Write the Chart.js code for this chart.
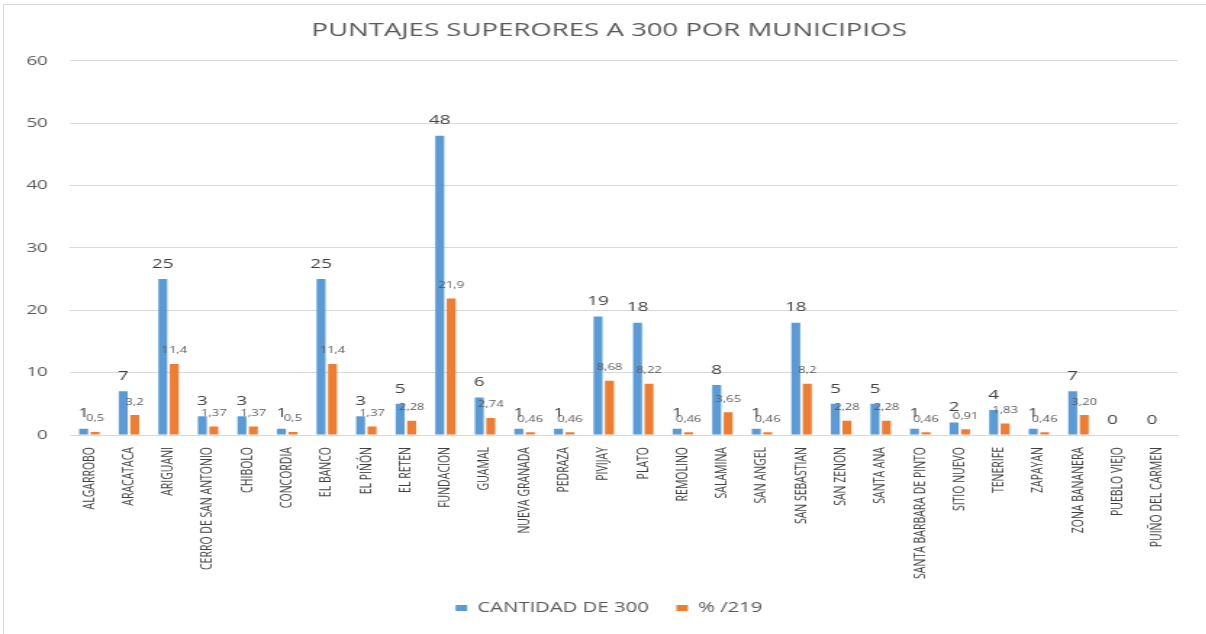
<!DOCTYPE html>
<html>
<head>
<meta charset="utf-8">
<script src="https://cdn.jsdelivr.net/npm/chart.js@4.4.1/dist/chart.umd.min.js"></script>
<style>
  html, body { margin: 0; padding: 0; background: #fff; overflow: hidden; }
  #wrap { position: relative; width: 1206px; height: 634px; }
  #frame { position: absolute; left: 3px; top: 4px; right: 0; bottom: 0; border-left: 1px solid #d9d9d9; border-top: 1px solid #d9d9d9; }
  /* the reference picture is stretched sideways, so the chart is drawn narrow and widened */
  canvas { position: absolute; left: 0; top: 0; transform: scaleX(1.45); transform-origin: 0 0; }
</style>
</head>
<body>
<div id="wrap">
  <div id="frame"></div>
  <canvas id="chart" width="832" height="634"></canvas>
</div>
<script>
const municipios = ["ALGARROBO", "ARACATACA", "ARIGUANI", "CERRO DE SAN ANTONIO", "CHIBOLO", "CONCORDIA",
  "EL BANCO", "EL PIÑÓN", "EL RETEN", "FUNDACION", "GUAMAL", "NUEVA GRANADA", "PEDRAZA", "PIVIJAY",
  "PLATO", "REMOLINO", "SALAMINA", "SAN ANGEL", "SAN SEBASTIAN", "SAN ZENON", "SANTA ANA",
  "SANTA BARBARA DE PINTO", "SITIO NUEVO", "TENERIFE", "ZAPAYAN", "ZONA BANANERA", "PUEBLO VIEJO",
  "PUIÑO DEL CARMEN"];
const cantidad = [1, 7, 25, 3, 3, 1, 25, 3, 5, 48, 6, 1, 1, 19, 18, 1, 8, 1, 18, 5, 5, 1, 2, 4, 1, 7, 0, 0];
const porcentaje = [0.5, 3.2, 11.4, 1.37, 1.37, 0.5, 11.4, 1.37, 2.28, 21.9, 2.74, 0.46, 0.46, 8.68, 8.22,
  0.46, 3.65, 0.46, 8.2, 2.28, 2.28, 0.46, 0.91, 1.83, 0.46, 3.2, null, null];
const porcentajeLabels = ["0,5", "3,2", "11,4", "1,37", "1,37", "0,5", "11,4", "1,37", "2,28", "21,9", "2,74",
  "0,46", "0,46", "8,68", "8,22", "0,46", "3,65", "0,46", "8,2", "2,28", "2,28", "0,46", "0,91", "1,83",
  "0,46", "3,20", null, null];
const yTicks = [0, 10, 20, 30, 40, 50, 60];

// draws the value labels over each bar
const valueLabels = {
  id: "valueLabels",
  afterDatasetsDraw(chart) {
    const ctx = chart.ctx;
    ctx.save();
    ctx.textAlign = "center";
    ctx.textBaseline = "middle";
    chart.data.datasets.forEach((ds, i) => {
      const meta = chart.getDatasetMeta(i);
      meta.data.forEach((bar, j) => {
        if (ds.data[j] === null) return;
        if (i === 0) {
          ctx.font = "13px 'Open Sans', sans-serif";
          ctx.fillStyle = "#404040";
          ctx.fillText(String(cantidad[j]), bar.x, bar.y - 15);
        } else {
          ctx.font = "9px 'Open Sans', sans-serif";
          ctx.fillStyle = "#595959";
          ctx.fillText(porcentajeLabels[j], bar.x, bar.y - 13);
        }
      });
    });
    ctx.restore();
  }
};

// title and legend sit a bit right of centre in the original
const shiftBoxes = {
  id: "shiftBoxes",
  afterLayout(chart) {
    [chart.titleBlock, chart.legend].forEach(box => {
      if (!box) return;
      box.left += 14;
      box.right += 14;
    });
  }
};

new Chart(document.getElementById("chart"), {
  type: "bar",
  data: {
    labels: municipios,
    datasets: [
      { label: "CANTIDAD DE 300", data: cantidad, backgroundColor: "#5B9BD5" },
      { label: "% /219", data: porcentaje, backgroundColor: "#ED7D31" }
    ]
  },
  options: {
    responsive: false,
    animation: false,
    layout: { padding: { left: 0, right: 20, top: 0, bottom: 9 } },
    datasets: { bar: { categoryPercentage: 0.58, barPercentage: 0.78 } },
    plugins: {
      title: {
        display: true,
        text: "PUNTAJES SUPERORES A 300 POR MUNICIPIOS",
        color: "#595959",
        font: { family: "'Open Sans', sans-serif", size: 19, weight: "normal" },
        padding: { top: 19, bottom: 19 }
      },
      legend: {
        position: "bottom",
        labels: {
          color: "#595959",
          font: { family: "'Open Sans', sans-serif", size: 14 },
          boxWidth: 8,
          boxHeight: 6,
          padding: 19
        }
      },
      tooltip: { enabled: false }
    },
    scales: {
      x: {
        afterFit(axis) { axis.height = 147; },
        grid: { display: false },
        border: { color: "#d9d9d9" },
        ticks: {
          autoSkip: false,
          minRotation: 90,
          maxRotation: 90,
          padding: 4,
          color: "#404040",
          font: { family: "'Open Sans', sans-serif", size: 10.5 }
        }
      },
      y: {
        min: 0,
        max: 60,
        afterBuildTicks(axis) { axis.ticks = yTicks.map(v => ({ value: v })); },
        afterFit(axis) { axis.width = 48; },
        grid: { color: "#d9d9d9", drawTicks: false },
        border: { display: false },
        ticks: {
          color: "#595959",
          padding: 15,
          font: { family: "'Open Sans', sans-serif", size: 13 }
        }
      }
    }
  },
  plugins: [valueLabels, shiftBoxes]
});
</script>
</body>
</html>
